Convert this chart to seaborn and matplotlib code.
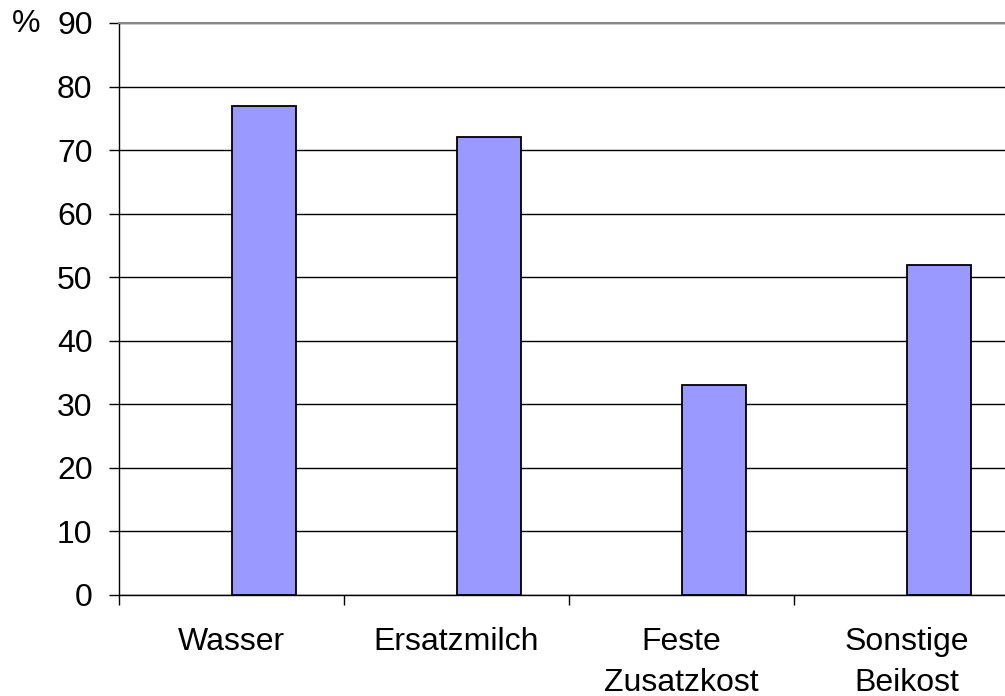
import pandas as pd
import matplotlib
matplotlib.use("Agg")
import matplotlib.pyplot as plt
import seaborn as sns

# ---- Daten ----
kategorien = ["Wasser", "Ersatzmilch", "Feste\nZusatzkost", "Sonstige\nBeikost"]
werte = [77, 72, 33, 52]
y_ticks = [0, 10, 20, 30, 40, 50, 60, 70, 80, 90]

# leere erste Reihe, damit der Balken (wie in Excel) rechts der Mitte sitzt
df = pd.DataFrame({
    "kategorie": kategorien * 2,
    "reihe": ["leer"] * len(kategorien) + ["wert"] * len(kategorien),
    "wert": [float("nan")] * len(kategorien) + werte,
})

sns.set_style("white")
plt.rcParams['font.family'] = ['Liberation Sans', 'DejaVu Sans']
plt.rcParams['text.color'] = 'black'
plt.rcParams['xtick.color'] = 'black'
plt.rcParams['ytick.color'] = 'black'

fig = plt.figure(figsize=(10.05, 6.96), dpi=100)
ax = fig.add_axes([119 / 1005, 1 - 595 / 696, 900 / 1005, (595 - 23) / 696])

sns.barplot(data=df, x="kategorie", y="wert", hue="reihe", hue_order=["leer", "wert"],
            palette={"leer": "white", "wert": "#9999FF"}, saturation=1, width=0.569,
            edgecolor="black", linewidth=1.3, legend=False, ax=ax, zorder=3)

ax.set_xlim(-0.5, 3.5)
ax.set_ylim(0, 90)
ax.set_yticks(y_ticks)
ax.yaxis.grid(True, color="black", linewidth=1)
ax.set_axisbelow(True)

ax.set_xticks(range(len(kategorien)))
ax.set_xticklabels(kategorien, fontsize=23, linespacing=1.47)
ax.set_xticks([-0.5, 0.5, 1.5, 2.5, 3.5], minor=True)
ax.tick_params(axis="x", which="major", length=0, pad=23)
ax.tick_params(axis="x", which="minor", length=7, width=1, direction="out", bottom=True)
ax.tick_params(axis="y", length=7, width=1, direction="out", left=True,
               labelsize=23, pad=12)

ax.set_xlabel("")
ax.set_ylabel("")
for s in ["left", "bottom"]:
    ax.spines[s].set_color("black")
    ax.spines[s].set_linewidth(1)
ax.spines["top"].set_color("#888888")
ax.spines["top"].set_linewidth(1.5)
ax.spines["right"].set_visible(False)

fig.text(12 / 1005, 1 - 24 / 696, "%", fontsize=23, va="center", ha="left")

fig.savefig("out.png", dpi=100)
